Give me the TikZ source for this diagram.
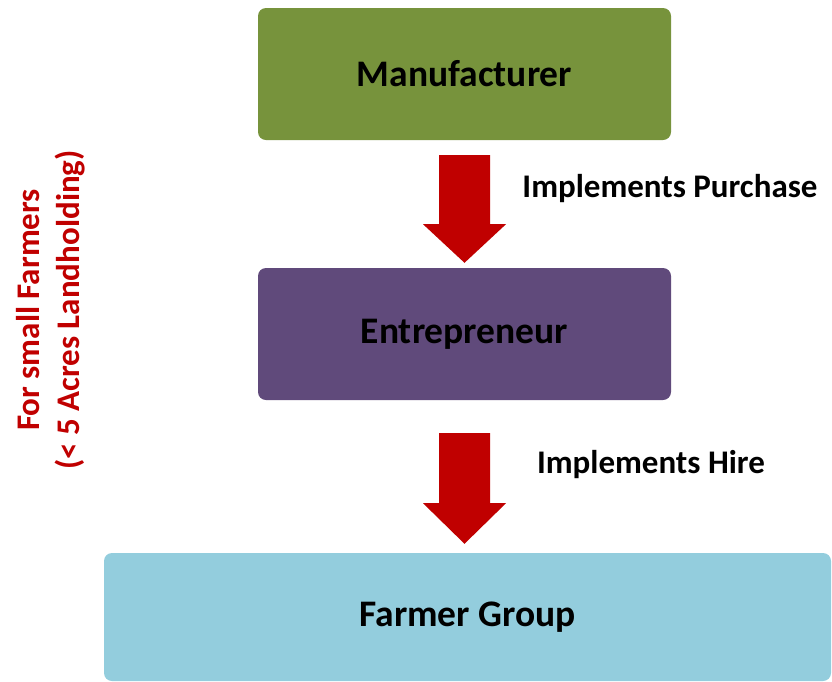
\documentclass[tikz,border=0pt]{standalone}
\usepackage{fontspec}
\setmainfont{Carlito}
\usetikzlibrary{calc}
\definecolor{mgreen}{RGB}{119,147,60}
\definecolor{mpurple}{RGB}{96,74,123}
\definecolor{mblue}{RGB}{147,205,221}
\definecolor{mred}{RGB}{192,0,0}
\tikzset{
  box/.style={fill=#1, draw=none, rounded corners=8pt, inner sep=0pt,
    font=\fontsize{37.5}{44}\selectfont\bfseries, text=black},
  lbl/.style={inner sep=0pt, font=\fontsize{33}{38}\selectfont\bfseries, text=black},
  blockarrow/.style={fill=mred, draw=none}
}
\begin{document}
\begin{tikzpicture}[x=1pt,y=-1pt]
\useasboundingbox (0,0) rectangle (832,681);
\node[box=mgreen, minimum width=413pt, minimum height=132pt] (m) at (464.5,74) {Manufacturer};
\node[box=mpurple, minimum width=413pt, minimum height=132pt] (e) at (464.5,334) {Entrepreneur};
\node[box=mblue, minimum width=727pt, minimum height=128pt] (f) at (467.5,617) {Farmer Group};
\fill[blockarrow] ($(m.south)+(-25.5,15)$) -- ($(m.south)+(25.5,15)$) -- ($(m.south)+(25.5,84)$)
  -- ($(m.south)+(41.5,84)$) -- ($(e.north)+(0,-5)$) -- ($(m.south)+(-41.5,84)$)
  -- ($(m.south)+(-25.5,84)$) -- cycle;
\fill[blockarrow] ($(e.south)+(-25.5,33)$) -- ($(e.south)+(25.5,33)$) -- ($(e.south)+(25.5,103)$)
  -- ($(e.south)+(41.5,103)$) -- ($(f.north)+(-3,-9)$) -- ($(e.south)+(-41.5,103)$)
  -- ($(e.south)+(-25.5,103)$) -- cycle;
\node[lbl] (lp) at (670,189) {Implements Purchase};
\node[lbl] (lh) at (651,465) {Implements Hire};
\node[rotate=90, align=center, text=mred, inner sep=0pt,
  font=\fontsize{33}{40}\selectfont\bfseries] (side) at (51,310)
  {For small Farmers\\(< 5 Acres Landholding)};
\end{tikzpicture}
\end{document}
